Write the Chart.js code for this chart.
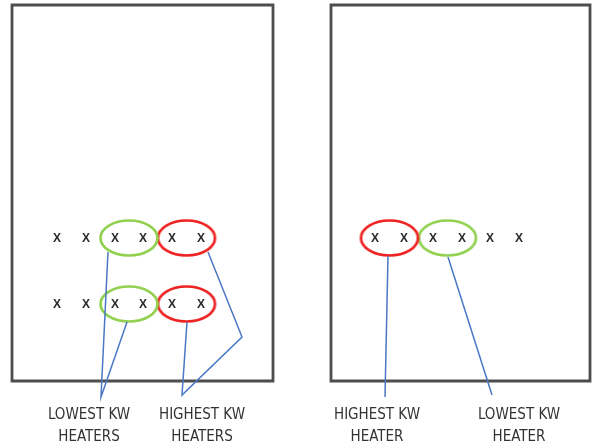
<!DOCTYPE html>
<html>
<head>
<meta charset="utf-8">
<script src="https://cdn.jsdelivr.net/npm/chart.js@4/dist/chart.umd.min.js"></script>
<style>
  html, body { margin: 0; padding: 0; background: #fff; }
  canvas { display: block; }
</style>
</head>
<body>
<canvas id="heaters" width="593" height="448"></canvas>
<script>
// the diagram uses the picture itself as its space: 0..593 across, 0..448 down

// heater positions ("X" marks)
const leftCols = [57, 86, 115, 143, 172, 201];
const leftRows = [238, 304];
const rightCols = [375, 404, 433, 462, 490, 519];
const rightRows = [238];

// which columns get circled
const leftLowest = [2, 3];
const leftHighest = [4, 5];
const rightHighest = [0, 1];
const rightLowest = [2, 3];

// room outlines
const leftRoomX = [12, 273];
const rightRoomX = [331, 590];
const roomY = [5, 381];

// leader lines (blue), listed as x / y pairs
const leadLeftLowX = [108, 101, 127];
const leadLeftLowY = [252, 397, 322];
const leadLeftHighX = [208, 242, 182, 187];
const leadLeftHighY = [252, 337, 395, 322];
const leadRightHighX = [388, 385];
const leadRightHighY = [256, 397];
const leadRightLowX = [448, 492];
const leadRightLowY = [257, 395];

// captions under the rooms
const captionTop = ['LOWEST KW', 'HIGHEST KW', 'HIGHEST KW', 'LOWEST KW'];
const captionBottom = ['HEATERS', 'HEATERS', 'HEATER', 'HEATER'];
const captionX = [89, 202, 377, 519];
const captionY = [415, 437];

// helpers
function zip(xs, ys) {
  return xs.map((x, i) => ({ x: x, y: ys[i] }));
}
function grid(cols, rows) {
  let pts = [];
  rows.forEach(y => cols.forEach(x => pts.push({ x: x, y: y })));
  return pts;
}
function groupCentres(cols, idx, rows) {
  let cx = idx.reduce((s, i) => s + cols[i], 0) / idx.length;
  return rows.map(y => ({ x: cx, y: y }));
}
function room(xs, ys) {
  return zip([xs[0], xs[1], xs[1], xs[0], xs[0], xs[1]], [ys[0], ys[0], ys[1], ys[1], ys[0], ys[0]]);
}
// ellipse drawn once on a small canvas, then used as the point style
function ring(color) {
  let c = document.createElement('canvas');
  c.width = 62;
  c.height = 40;
  let g = c.getContext('2d');
  g.strokeStyle = color;
  g.lineWidth = 2.7;
  g.beginPath();
  g.ellipse(31, 20, 28.5, 17.5, 0, 0, Math.PI * 2);
  g.stroke();
  return c;
}

const greenRing = ring('#92d050');
const redRing = ring('#ee2222');
const blue = '#4a78c6';

function lineSet(points, color, width, order) {
  return {
    data: points,
    showLine: true,
    borderColor: color,
    borderWidth: width,
    borderJoinStyle: 'miter',
    pointRadius: 0,
    tension: 0,
    clip: false,
    order: order
  };
}
function ringSet(points, img) {
  return {
    data: points,
    pointStyle: img,
    pointRadius: 20,
    showLine: false,
    clip: false,
    order: 1
  };
}

// draws the X marks and the captions as text
const textMarks = {
  id: 'textMarks',
  afterDatasetsDraw(chart) {
    let ctx = chart.ctx;
    let xs = chart.scales.x, ys = chart.scales.y;
    ctx.save();
    ctx.fillStyle = '#2a2a2a';
    ctx.textAlign = 'center';
    ctx.textBaseline = 'middle';
    ctx.font = "bold 12px 'Liberation Sans', Arial, sans-serif";
    chart.data.datasets.forEach((ds, i) => {
      if (!ds.heaterMarks) return;
      chart.getDatasetMeta(i).data.forEach(pt => ctx.fillText('X', pt.x, pt.y + 1));
    });
    ctx.fillStyle = '#333';
    ctx.font = "15px 'Liberation Sans Narrow', 'DejaVu Sans Condensed', sans-serif";
    captionX.forEach((x, i) => {
      ctx.fillText(captionTop[i], xs.getPixelForValue(x), ys.getPixelForValue(captionY[0]));
      ctx.fillText(captionBottom[i], xs.getPixelForValue(x), ys.getPixelForValue(captionY[1]));
    });
    ctx.restore();
  }
};

let chart = new Chart(document.getElementById('heaters'), {
  type: 'scatter',
  data: {
    datasets: [
      // leader lines on top
      lineSet(zip(leadLeftLowX, leadLeftLowY), blue, 1.5, 0),
      lineSet(zip(leadLeftHighX, leadLeftHighY), blue, 1.5, 0),
      lineSet(zip(leadRightHighX, leadRightHighY), blue, 1.5, 0),
      lineSet(zip(leadRightLowX, leadRightLowY), blue, 1.5, 0),
      // circled groups
      ringSet(groupCentres(leftCols, leftLowest, leftRows), greenRing),
      ringSet(groupCentres(leftCols, leftHighest, leftRows), redRing),
      ringSet(groupCentres(rightCols, rightHighest, rightRows), redRing),
      ringSet(groupCentres(rightCols, rightLowest, rightRows), greenRing),
      // heaters (drawn as letters by the plugin)
      { data: grid(leftCols, leftRows), pointRadius: 0, heaterMarks: true, order: 1 },
      { data: grid(rightCols, rightRows), pointRadius: 0, heaterMarks: true, order: 1 },
      // rooms
      lineSet(room(leftRoomX, roomY), '#4d4d4d', 2.8, 2),
      lineSet(room(rightRoomX, roomY), '#4d4d4d', 2.8, 2)
    ]
  },
  options: {
    responsive: false,
    animation: false,
    events: [],
    layout: { padding: 0, autoPadding: false },
    plugins: {
      legend: { display: false },
      tooltip: { enabled: false }
    },
    scales: {
      x: { type: 'linear', min: 0, max: 593, display: false },
      y: { type: 'linear', min: 0, max: 448, reverse: true, display: false }
    }
  },
  plugins: [textMarks]
});
</script>
</body>
</html>
